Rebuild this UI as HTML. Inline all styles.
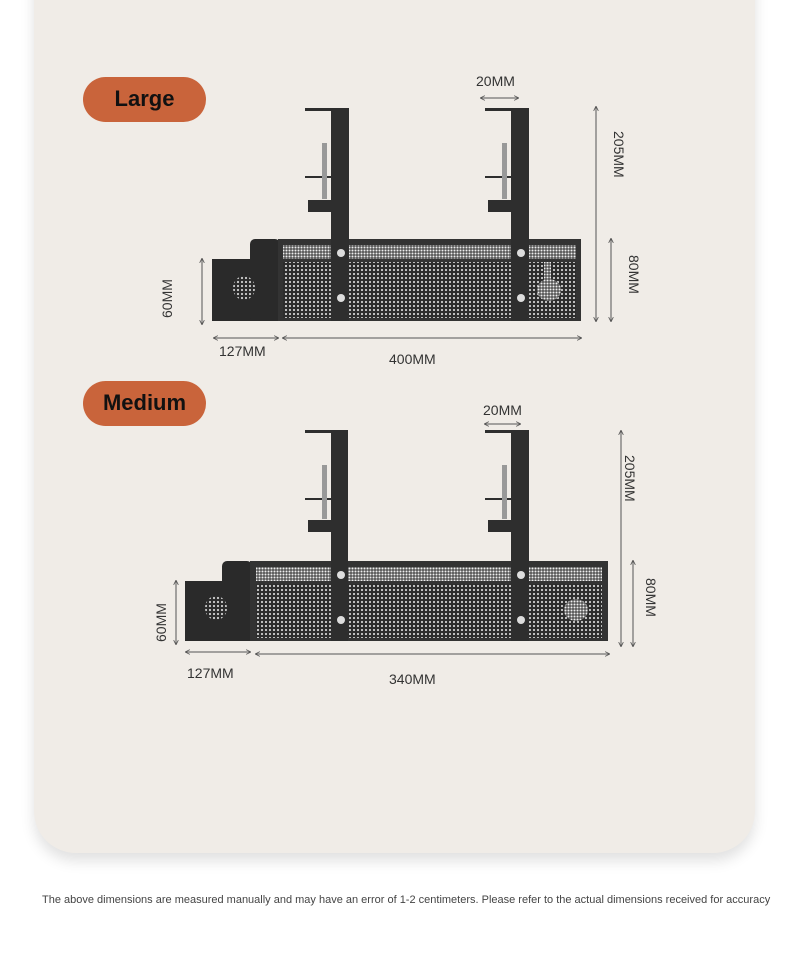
<!DOCTYPE html>
<html><head><meta charset="utf-8"><style>
body{margin:0;width:790px;height:958px;background:#fff;overflow:hidden;font-family:"Liberation Sans",sans-serif}
.card{position:absolute;left:34px;top:-60px;width:721px;height:913px;background:#f0ece7;border-radius:42px;box-shadow:0 8px 14px rgba(0,0,0,0.12)}
.pill{position:absolute;background:#c9643b;border-radius:23px;color:#111;font-weight:bold;font-size:22px;text-align:center;line-height:44px}
.note{position:absolute;left:42px;top:894px;font-size:11px;color:#444;white-space:nowrap}
svg{position:absolute;left:0;top:0}
</style></head><body>
<div class="card"></div>
<div class="pill" style="left:83px;top:77px;width:123px;height:45px">Large</div>
<div class="pill" style="left:83px;top:381px;width:123px;height:45px">Medium</div>
<svg width="790" height="958" viewBox="0 0 790 958">
<defs>
<pattern id="m" width="4" height="4" patternUnits="userSpaceOnUse"><rect width="4" height="4" fill="#2c2c2c"/><circle cx="2" cy="2" r="1.1" fill="#cfcfcf"/></pattern>
<pattern id="m2" width="3" height="3" patternUnits="userSpaceOnUse"><rect width="3" height="3" fill="#555"/><circle cx="1.5" cy="1.5" r="1" fill="#eee"/></pattern>
<marker id="a" viewBox="0 0 6 6" refX="5" refY="3" markerWidth="5" markerHeight="5" orient="auto-start-reverse"><path d="M0,0L6,3L0,6" fill="none" stroke="#555" stroke-width="1"/></marker>
</defs>
<g font-family="Liberation Sans" font-size="14" fill="#333">
<!-- LARGE -->
<g>
<rect x="212" y="259" width="66" height="62" fill="#2a2a2a"/>
<rect x="250" y="239" width="30" height="82" rx="5" fill="#2a2a2a"/>
<ellipse cx="244" cy="288" rx="11" ry="12" fill="url(#m)"/>
<rect x="278" y="239" width="303" height="82" fill="#333"/>
<rect x="283" y="262" width="293" height="56" fill="url(#m)"/>
<rect x="283" y="245" width="293" height="14" fill="url(#m2)"/>
<ellipse cx="549" cy="290" rx="12" ry="11" fill="url(#m2)"/>
<rect x="544" y="262" width="7" height="22" fill="url(#m2)"/>
<g fill="#2e2e2e">
<rect x="331" y="109" width="18" height="212"/><rect x="511" y="109" width="18" height="212"/>
<rect x="305" y="108" width="44" height="3"/><rect x="485" y="108" width="44" height="3"/>
<rect x="305" y="176" width="26" height="2"/><rect x="485" y="176" width="26" height="2"/>
<rect x="308" y="200" width="23" height="12"/><rect x="488" y="200" width="23" height="12"/>
</g>
<g fill="#999"><rect x="322" y="143" width="5" height="56"/><rect x="502" y="143" width="5" height="56"/></g>
<g fill="#ddd"><circle cx="341" cy="253" r="4"/><circle cx="341" cy="298" r="4"/><circle cx="521" cy="253" r="4"/><circle cx="521" cy="298" r="4"/></g>
</g>
<g stroke="#555" stroke-width="1" fill="none" marker-start="url(#a)" marker-end="url(#a)">
<line x1="481" y1="98" x2="518" y2="98"/>
<line x1="596" y1="107" x2="596" y2="321"/>
<line x1="611" y1="239" x2="611" y2="321"/>
<line x1="202" y1="259" x2="202" y2="324"/>
<line x1="214" y1="338" x2="278" y2="338"/>
<line x1="283" y1="338" x2="581" y2="338"/>
</g>
<text x="476" y="86">20MM</text>
<text x="219" y="356">127MM</text>
<text x="389" y="364">400MM</text>
<text transform="translate(614,131) rotate(90)">205MM</text>
<text transform="translate(629,255) rotate(90)">80MM</text>
<text transform="translate(172,318) rotate(-90)">60MM</text>
<!-- MEDIUM -->
<g>
<rect x="185" y="581" width="66" height="60" fill="#2a2a2a"/>
<rect x="222" y="561" width="30" height="80" rx="5" fill="#2a2a2a"/>
<ellipse cx="216" cy="608" rx="11" ry="12" fill="url(#m)"/>
<rect x="250" y="561" width="358" height="80" fill="#333"/>
<rect x="256" y="584" width="346" height="54" fill="url(#m)"/>
<rect x="256" y="567" width="346" height="14" fill="url(#m2)"/>
<ellipse cx="576" cy="610" rx="12" ry="11" fill="url(#m2)"/>
<g fill="#2e2e2e">
<rect x="331" y="431" width="17" height="210"/><rect x="511" y="431" width="18" height="210"/>
<rect x="305" y="430" width="43" height="3"/><rect x="485" y="430" width="44" height="3"/>
<rect x="305" y="498" width="26" height="2"/><rect x="485" y="498" width="26" height="2"/>
<rect x="308" y="520" width="23" height="12"/><rect x="488" y="520" width="23" height="12"/>
</g>
<g fill="#999"><rect x="322" y="465" width="5" height="54"/><rect x="502" y="465" width="5" height="54"/></g>
<g fill="#ddd"><circle cx="341" cy="575" r="4"/><circle cx="341" cy="620" r="4"/><circle cx="521" cy="575" r="4"/><circle cx="521" cy="620" r="4"/></g>
</g>
<g stroke="#555" stroke-width="1" fill="none" marker-start="url(#a)" marker-end="url(#a)">
<line x1="485" y1="424" x2="520" y2="424"/>
<line x1="621" y1="431" x2="621" y2="646"/>
<line x1="633" y1="561" x2="633" y2="646"/>
<line x1="176" y1="581" x2="176" y2="644"/>
<line x1="186" y1="652" x2="250" y2="652"/>
<line x1="256" y1="654" x2="609" y2="654"/>
</g>
<text x="483" y="415">20MM</text>
<text x="187" y="678">127MM</text>
<text x="389" y="684">340MM</text>
<text transform="translate(625,455) rotate(90)">205MM</text>
<text transform="translate(646,578) rotate(90)">80MM</text>
<text transform="translate(166,642) rotate(-90)">60MM</text>
</g>
</svg>
<div class="note">The above dimensions are measured manually and may have an error of 1-2 centimeters. Please refer to the actual dimensions received for accuracy</div>
</body></html>
